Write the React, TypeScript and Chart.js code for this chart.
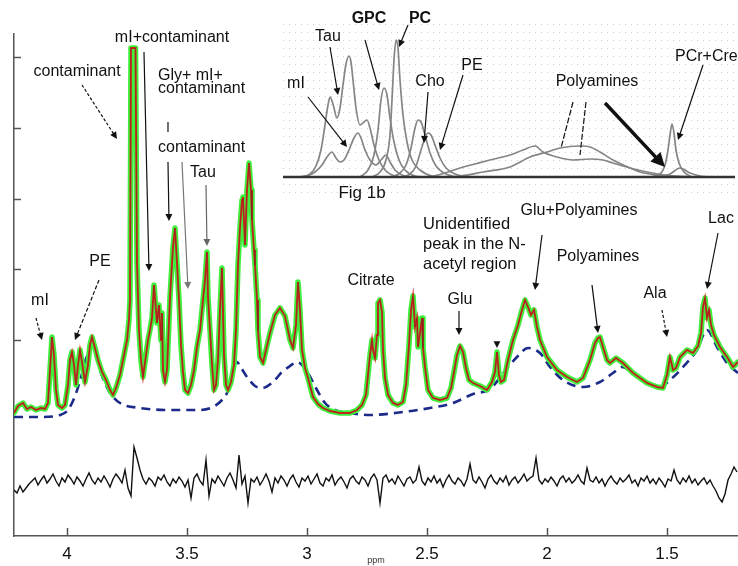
import React, { useEffect, useRef } from 'react';
import { Chart, registerables } from 'chart.js';

Chart.register(...registerables);

const FONT = '"Liberation Sans", Arial, Helvetica, sans-serif';

// ---------------- main spectrum data (ppm, intensity a.u.) ----------------
const spectrumPpm = [
  4.2208, 4.2042, 4.1833, 4.1667, 4.15, 4.1292, 4.1083, 4.0917, 4.0792, 4.0708,
  4.0625, 4.0542, 4.0458, 4.0375, 4.0208, 4.0083, 3.9958, 3.9875, 3.9792, 3.9708,
  3.9625, 3.9542, 3.9458, 3.9375, 3.925, 3.9125, 3.9042, 3.8958, 3.8833, 3.8708,
  3.8542, 3.8375, 3.8208, 3.8083, 3.7958, 3.7792, 3.7625, 3.75, 3.7417, 3.7375,
  3.7333, 3.7146, 3.7083, 3.7, 3.6917, 3.6833, 3.6708, 3.6625, 3.6542, 3.6458,
  3.6375, 3.6292, 3.625, 3.6167, 3.6083, 3.6042, 3.6, 3.5917, 3.5833, 3.5708,
  3.5583, 3.55, 3.5417, 3.5333, 3.525, 3.5167, 3.5083, 3.4958, 3.4833, 3.4708,
  3.4583, 3.4458, 3.4375, 3.4333, 3.425, 3.4167, 3.4125, 3.4042, 3.3958, 3.3875,
  3.3792, 3.3708, 3.3625, 3.3542, 3.3458, 3.3375, 3.3292, 3.3167, 3.3042, 3.2958,
  3.2875, 3.2792, 3.2708, 3.2667, 3.2583, 3.25, 3.2417, 3.2333, 3.2292, 3.2208,
  3.2167, 3.2083, 3.2042, 3.1958, 3.1833, 3.1708, 3.1542, 3.1333, 3.1125, 3.0917,
  3.0708, 3.0583, 3.0458, 3.0375, 3.0292, 3.0208, 3.0083, 2.9958, 2.975, 2.9542,
  2.9333, 2.9042, 2.8625, 2.8208, 2.7917, 2.7708, 2.7542, 2.7458, 2.7375, 2.7292,
  2.725, 2.7167, 2.7083, 2.7042, 2.6958, 2.6875, 2.6833, 2.675, 2.6625, 2.6417,
  2.6208, 2.6, 2.5875, 2.575, 2.5667, 2.5583, 2.55, 2.5417, 2.5375, 2.5292,
  2.5208, 2.5167, 2.5083, 2.4958, 2.475, 2.4458, 2.4167, 2.4, 2.3875, 2.375,
  2.3625, 2.35, 2.3375, 2.325, 2.3083, 2.2792, 2.25, 2.2292, 2.2167, 2.2083,
  2.2, 2.1917, 2.1792, 2.1625, 2.1417, 2.1208, 2.1042, 2.0917, 2.0792, 2.0667,
  2.0542, 2.0417, 2.0292, 2.0, 1.9583, 1.9167, 1.875, 1.85, 1.8208, 1.8,
  1.7875, 1.7792, 1.7667, 1.75, 1.7375, 1.7125, 1.6833, 1.6417, 1.5833, 1.5417,
  1.5167, 1.5, 1.4875, 1.475, 1.4625, 1.4458, 1.4167, 1.3917, 1.3708, 1.3583,
  1.35, 1.3417, 1.3333, 1.325, 1.3167, 1.3042, 1.2792, 1.25, 1.225, 1.2042,
];
const spectrumIntensity = [
  123, 130, 133, 127, 129, 126, 128, 127, 133, 166,
  199, 181, 146, 131, 128, 131, 151, 176, 184, 171,
  151, 171, 186, 174, 154, 171, 191, 199, 188, 176,
  164, 156, 146, 141, 148, 161, 181, 196, 216, 236,
  488, 488, 273, 206, 176, 159, 181, 196, 206, 218,
  251, 226, 213, 231, 196, 223, 166, 154, 166, 239,
  289, 308, 273, 236, 191, 164, 146, 143, 151, 166,
  189, 206, 226, 236, 256, 284, 239, 206, 171, 146,
  151, 176, 226, 268, 181, 151, 146, 154, 171, 206,
  271, 308, 336, 339, 291, 346, 373, 346, 316, 286,
  271, 236, 206, 179, 173, 186, 203, 221, 228, 220,
  196, 188, 211, 254, 226, 186, 168, 158, 139, 132,
  128, 125, 123, 123, 126, 131, 141, 161, 181, 196,
  186, 178, 201, 233, 236, 224, 186, 158, 141, 133,
  131, 134, 151, 191, 226, 240, 209, 218, 189, 203,
  218, 188, 169, 146, 138, 136, 138, 148, 164, 181,
  190, 184, 168, 156, 153, 150, 146, 154, 164, 184,
  161, 154, 156, 176, 196, 211, 226, 236, 229, 221,
  226, 209, 196, 179, 166, 159, 154, 158, 176, 193,
  198, 199, 189, 176, 173, 178, 173, 163, 153, 149,
  148, 161, 179, 166, 168, 179, 186, 183, 190, 203,
  229, 238, 218, 226, 211, 201, 189, 179, 169, 174,
];

const baselinePpm = [
  4.2208, 4.1125, 4.0292, 3.9958, 3.9667, 3.9458, 3.925, 3.9042, 3.8917, 3.875,
  3.8625, 3.8417, 3.8208, 3.7792, 3.6958, 3.5708, 3.4458, 3.3917, 3.3542, 3.3333,
  3.3167, 3.3042, 3.2917, 3.2792, 3.25, 3.2167, 3.1875, 3.1417, 3.1042, 3.0708,
  3.0417, 3.0208, 2.9958, 2.9583, 2.925, 2.8833, 2.8208, 2.7375, 2.6, 2.4875,
  2.3917, 2.3083, 2.2375, 2.175, 2.125, 2.0792, 2.0292, 1.9875, 1.9333, 1.85,
  1.7792, 1.725, 1.6875, 1.6417, 1.5833, 1.5292, 1.4875, 1.4333, 1.375, 1.3333,
  1.2917, 1.25, 1.2042,
];
const baselineIntensity = [
  119, 119, 121, 126, 140, 155, 174, 186, 189, 178,
  166, 153, 143, 133, 128, 126, 126, 129, 136, 143,
  156, 172, 174, 170, 159, 150, 148, 154, 164, 170,
  174, 171, 163, 146, 133, 126, 123, 121, 124, 128,
  133, 142, 147, 165, 179, 188, 183, 169, 156, 149,
  154, 163, 169, 163, 154, 149, 156, 169, 186, 206,
  189, 173, 163,
];

// residual: sampled every 0.0125 ppm starting at 4.2208 ppm
const residualStartPpm = 4.2208;
const residualStepPpm = 0.0125;
const residualIntensity = [
  46, 43, 50, 44, 48, 52, 55, 58, 51, 56,
  60, 53, 57, 62, 55, 50, 58, 54, 61, 57,
  52, 59, 55, 50, 57, 63, 56, 52, 58, 54,
  60, 55, 49, 57, 62, 58, 53, 66, 48, 40,
  89, 78, 66, 57, 52, 58, 55, 50, 59, 56,
  61, 54, 50, 57, 53, 59, 55, 49, 56, 38,
  58, 62, 55, 51, 76, 40, 57, 53, 60, 55,
  50, 58, 63, 56, 48, 81, 52, 60, 33, 57,
  54, 59, 51, 56, 62, 55, 44, 58, 53, 60,
  56, 50, 57, 61, 54, 49, 58, 55, 60, 52,
  57, 62, 53, 50, 58, 55, 61, 51, 56, 59,
  54, 48, 57, 60, 55, 52, 59, 56, 50, 58,
  62, 56, 33, 58, 61, 54, 57, 52, 60, 55,
  50, 57, 59, 53, 56, 69, 55, 51, 58, 54,
  60, 53, 57, 49, 56, 61, 55, 52, 58, 55,
  50, 57, 72, 56, 53, 59, 54, 48, 57, 61,
  55, 52, 58, 54, 60, 51, 56, 59, 53, 57,
  62, 55, 58, 60, 78, 56, 52, 57, 54, 59,
  55, 50, 57, 60, 54, 58, 53, 56, 61, 55,
  52, 68, 56, 54, 59, 53, 57, 50, 56, 60,
  55, 52, 58, 54, 57, 61, 53, 56, 50, 58,
  55, 60, 53, 57, 52, 58, 54, 49, 57, 55,
  66, 56, 52, 58, 54, 60, 53, 57, 51, 55,
  58, 52, 56, 50, 45, 38, 34, 42, 56, 62,
  69, 64,
];

const xTickValues = [4, 3.5, 3, 2.5, 2, 1.5];
const yTickValues = [196, 266.75, 337.5, 408.25, 479];
const X_MIN = 1.2042;
const X_MAX = 4.2208;

// ---------------- inset (Fig 1b) component curves ----------------
const insetTau = [[17, 0], [27, 3], [33, 11], [38, 27], [42, 52], [45, 72], [47, 80], [50, 73], [54, 59], [57, 69], [60, 92], [63, 113], [66, 121], [68, 115], [70, 97], [73, 69], [77, 52], [81, 55], [84, 57], [87, 49], [91, 32], [96, 17], [102, 7], [109, 2], [117, 0]];
const insetMI = [[22, 0], [32, 5], [39, 12], [44, 20], [49, 25], [53, 19], [57, 15], [61, 17], [66, 27], [71, 39], [75, 44], [78, 39], [82, 27], [87, 17], [93, 12], [98, 17], [103, 22], [107, 15], [112, 7], [119, 2], [127, 0]];
const insetGPC = [[77, 0], [85, 7], [91, 22], [95, 47], [98, 77], [101, 89], [104, 82], [107, 59], [111, 35], [116, 17], [122, 7], [132, 1], [142, 0]];
const insetPC = [[89, 0], [97, 5], [103, 17], [107, 42], [109, 77], [111, 117], [113, 137], [115, 129], [117, 97], [120, 62], [124, 35], [129, 17], [137, 7], [149, 1], [162, 0]];
const insetCho = [[109, 0], [117, 4], [123, 12], [128, 29], [132, 49], [135, 57], [138, 55], [142, 42], [147, 24], [153, 11], [161, 4], [172, 0]];
const insetPE = [[119, 0], [127, 3], [133, 11], [138, 27], [142, 39], [145, 44], [148, 42], [152, 32], [157, 19], [163, 9], [172, 3], [185, 0]];
const insetPoly1 = [[147, 0], [162, 4], [177, 9], [192, 13], [207, 17], [227, 22], [240, 27], [252, 31], [260, 25], [274, 20], [290, 17], [307, 18], [320, 17], [330, 14], [347, 9], [364, 5], [382, 2], [407, 0]];
const insetPoly2 = [[157, 0], [177, 1], [200, 5], [227, 10], [247, 20], [264, 25], [277, 29], [297, 31], [307, 30], [317, 25], [330, 17], [347, 9], [357, 5], [374, 2], [392, 0]];
const insetCr = [[367, 0], [377, 3], [382, 12], [385, 27], [387, 42], [389, 53], [391, 44], [393, 27], [396, 14], [401, 5], [409, 0]];
const insetSmall = [[377, 0], [387, 3], [397, 9], [407, 4], [417, 1], [429, 0]];
const insetBase = [[0, 0], [452, 0]];

// ---------------- annotations ----------------
type Label = { text: string; at: [number, number]; align: CanvasTextAlign; bold?: boolean; size?: number };
type Arrow = { from: [number, number]; to: [number, number]; color?: string; dash?: number[]; head?: boolean; width?: number; headLen?: number; headW?: number };

const mainLabels: Label[] = [
  { text: 'contaminant', at: [3.958, 464], align: 'center' },
  { text: 'mI+contaminant', at: [3.5625, 498], align: 'center' },
  { text: 'Gly+ mI+', at: [3.6208, 460], align: 'left' },
  { text: 'contaminant', at: [3.6208, 447], align: 'left' },
  { text: 'contaminant', at: [3.6208, 388], align: 'left' },
  { text: 'Tau', at: [3.4875, 363], align: 'left' },
  { text: 'mI', at: [4.1125, 235], align: 'center' },
  { text: 'PE', at: [3.8625, 274], align: 'center' },
  { text: 'Citrate', at: [2.7333, 255], align: 'center' },
  { text: 'Glu', at: [2.3625, 236], align: 'center' },
  { text: 'Unidentified', at: [2.5167, 312], align: 'left', size: 16.5 },
  { text: 'peak in the N-', at: [2.5167, 292], align: 'left', size: 16.5 },
  { text: 'acetyl region', at: [2.5167, 272], align: 'left', size: 16.5 },
  { text: 'Glu+Polyamines', at: [1.8667, 325], align: 'center' },
  { text: 'Polyamines', at: [1.7875, 279], align: 'center' },
  { text: 'Ala', at: [1.55, 242], align: 'center' },
  { text: 'Lac', at: [1.275, 317], align: 'center' },
];
const mainArrows: Arrow[] = [
  { from: [3.9375, 451], to: [3.7917, 397], dash: [3, 2], head: true },
  { from: [3.6792, 484], to: [3.6583, 265], head: true },
  { from: [3.5792, 414], to: [3.5792, 404], head: false },
  { from: [3.5792, 374], to: [3.575, 315], head: true },
  { from: [3.5208, 374], to: [3.4958, 247], color: '#777', head: true },
  { from: [3.4208, 351], to: [3.4167, 290], color: '#666', head: true },
  { from: [4.1292, 218], to: [4.1042, 196], dash: [3, 2], head: true },
  { from: [3.8667, 256], to: [3.9667, 196], dash: [4, 2], head: true },
  { from: [2.3667, 225], to: [2.3667, 201], head: true },
  { from: [2.0208, 301], to: [2.05, 246], head: true },
  { from: [1.8125, 251], to: [1.7875, 203], head: true },
  { from: [1.5208, 226], to: [1.5, 199], dash: [3, 2], head: true },
  { from: [1.2875, 303], to: [1.3333, 247], head: true },
];
const mainMarkers: [number, number][] = [[2.2083, 191]];

const insetLabels: Label[] = [
  { text: 'Tau', at: [45, 140], align: 'center' },
  { text: 'GPC', at: [86, 158], align: 'center', bold: true },
  { text: 'PC', at: [137, 158], align: 'center', bold: true },
  { text: 'mI', at: [13, 93], align: 'center' },
  { text: 'Cho', at: [147, 95], align: 'center' },
  { text: 'PE', at: [189, 111], align: 'center' },
  { text: 'Polyamines', at: [314, 95], align: 'center' },
  { text: 'PCr+Cre', at: [392, 120], align: 'left' },
  { text: 'Fig 1b', at: [79, -16], align: 'center', size: 17 },
];
const insetArrows: Arrow[] = [
  { from: [47, 130], to: [55, 82], head: true },
  { from: [82, 137], to: [96, 87], head: true },
  { from: [125, 152], to: [116, 130], head: true },
  { from: [25, 80], to: [64, 30], head: true },
  { from: [145, 85], to: [141, 34], head: true },
  { from: [180, 102], to: [157, 27], head: true },
  { from: [290, 75], to: [278, 29], head: false, dash: [6, 2] },
  { from: [303, 75], to: [297, 22], head: false, dash: [6, 2] },
  { from: [322, 74], to: [382, 10], head: true, width: 3.5, headLen: 14, headW: 7 },
  { from: [420, 112], to: [395, 37], head: true },
];

function toPoints(xs: number[], ys: number[]) {
  return xs.map((x, i) => ({ x, y: ys[i] }));
}
function pairPoints(p: number[][]) {
  return p.map(([x, y]) => ({ x, y }));
}

function drawArrow(ctx: CanvasRenderingContext2D, x1: number, y1: number, x2: number, y2: number, a: Arrow) {
  const color = a.color || '#111';
  const width = a.width || 1.2;
  const L = a.headLen || 7;
  const W = a.headW || 3.5;
  const ang = Math.atan2(y2 - y1, x2 - x1);
  const c = Math.cos(ang);
  const s = Math.sin(ang);
  ctx.save();
  ctx.strokeStyle = color;
  ctx.fillStyle = color;
  ctx.lineWidth = width;
  ctx.setLineDash(a.dash || []);
  ctx.beginPath();
  ctx.moveTo(x1, y1);
  const ex = a.head ? x2 - c * L * 0.8 : x2;
  const ey = a.head ? y2 - s * L * 0.8 : y2;
  ctx.lineTo(ex, ey);
  ctx.stroke();
  if (a.head) {
    ctx.setLineDash([]);
    ctx.beginPath();
    ctx.moveTo(x2, y2);
    ctx.lineTo(x2 - c * L - s * W, y2 - s * L + c * W);
    ctx.lineTo(x2 - c * L + s * W, y2 - s * L - c * W);
    ctx.closePath();
    ctx.fill();
  }
  ctx.restore();
}

function drawLabels(chart: any, labels: Label[]) {
  const { ctx, scales } = chart;
  ctx.save();
  ctx.fillStyle = '#111';
  ctx.textBaseline = 'middle';
  labels.forEach((l) => {
    ctx.font = `${l.bold ? 'bold ' : ''}${l.size || 16}px ${FONT}`;
    ctx.textAlign = l.align;
    ctx.fillText(l.text, scales.x.getPixelForValue(l.at[0]), scales.y.getPixelForValue(l.at[1]));
  });
  ctx.restore();
}

function drawArrows(chart: any, arrows: Arrow[]) {
  const { ctx, scales } = chart;
  arrows.forEach((a) => {
    drawArrow(
      ctx,
      scales.x.getPixelForValue(a.from[0]),
      scales.y.getPixelForValue(a.from[1]),
      scales.x.getPixelForValue(a.to[0]),
      scales.y.getPixelForValue(a.to[1]),
      a
    );
  });
}

const mainDecor = {
  id: 'mainDecor',
  afterDraw(chart: any) {
    const { ctx, scales, chartArea } = chart;
    ctx.save();
    ctx.strokeStyle = '#555';
    ctx.lineWidth = 1.5;
    xTickValues.forEach((v) => {
      const px = Math.round(scales.x.getPixelForValue(v)) + 0.5;
      ctx.beginPath();
      ctx.moveTo(px, chartArea.bottom);
      ctx.lineTo(px, chartArea.bottom - 8);
      ctx.stroke();
    });
    yTickValues.forEach((v) => {
      const py = Math.round(scales.y.getPixelForValue(v)) + 0.5;
      ctx.beginPath();
      ctx.moveTo(chartArea.left, py);
      ctx.lineTo(chartArea.left + 7, py);
      ctx.stroke();
    });
    ctx.restore();
    drawArrows(chart, mainArrows);
    drawLabels(chart, mainLabels);
    ctx.save();
    ctx.fillStyle = '#111';
    ctx.font = `9px "DejaVu Sans", ${FONT}`;
    ctx.textAlign = 'center';
    ctx.textBaseline = 'middle';
    mainMarkers.forEach(([x, y]) => {
      ctx.fillText('▼', scales.x.getPixelForValue(x), scales.y.getPixelForValue(y));
    });
    ctx.restore();
  },
};

const insetDecor = {
  id: 'insetDecor',
  beforeDatasetsDraw(chart: any) {
    const { ctx, scales } = chart;
    ctx.save();
    ctx.fillStyle = '#cfcfcf';
    for (let yv = -15; yv <= 157; yv += 8) {
      const py = Math.round(scales.y.getPixelForValue(yv));
      for (let xv = 0; xv <= 452; xv += 6) {
        const px = Math.round(scales.x.getPixelForValue(xv));
        ctx.fillRect(px, py, 1, 1);
      }
    }
    ctx.restore();
  },
  afterDraw(chart: any) {
    drawArrows(chart, insetArrows);
    drawLabels(chart, insetLabels);
  },
};

export default function App() {
  const mainRef = useRef<HTMLCanvasElement>(null);
  const insetRef = useRef<HTMLCanvasElement>(null);

  useEffect(() => {
    const spec = toPoints(spectrumPpm, spectrumIntensity);
    const base = toPoints(baselinePpm, baselineIntensity);
    const resid = residualIntensity.map((y, i) => ({ x: residualStartPpm - residualStepPpm * i, y }));

    const main = new Chart(mainRef.current as HTMLCanvasElement, {
      type: 'line',
      data: {
        datasets: [
          { label: 'fit', data: spec, borderColor: 'rgba(60,30,20,0.55)', borderWidth: 0.6, pointRadius: 0, tension: 0 },
          { label: 'fit red', data: spec, borderColor: '#d42a20', borderWidth: 1.9, pointRadius: 0, tension: 0 },
          { label: 'data', data: spec, borderColor: '#3cf03c', borderWidth: 5.5, pointRadius: 0, tension: 0, borderJoinStyle: 'round', borderCapStyle: 'round' },
          { label: 'baseline', data: base, borderColor: '#1c2a8a', borderWidth: 2.6, borderDash: [9, 6], pointRadius: 0, cubicInterpolationMode: 'monotone' },
          { label: 'residual', data: resid, borderColor: '#111', borderWidth: 1.4, pointRadius: 0, tension: 0 },
        ] as any,
      },
      options: {
        animation: false,
        responsive: false,
        maintainAspectRatio: false,
        events: [],
        layout: { padding: { left: 0, top: 34, right: 0, bottom: 0 } },
        plugins: { legend: { display: false }, tooltip: { enabled: false }, title: { display: false } },
        scales: {
          x: {
            type: 'linear',
            reverse: true,
            min: X_MIN,
            max: X_MAX,
            afterBuildTicks: (s: any) => {
              s.ticks = xTickValues.map((v) => ({ value: v }));
            },
            afterFit: (s: any) => {
              s.height = 30;
            },
            grid: { display: false, drawTicks: false },
            border: { display: true, color: '#555', width: 1.5 },
            title: { display: true, text: 'ppm', color: '#333', font: { family: FONT, size: 9 }, padding: { top: 0, bottom: 0 } },
            ticks: {
              padding: 8,
              color: '#111',
              autoSkip: false,
              maxRotation: 0,
              font: { family: FONT, size: 17 },
              callback: (v: any) => String(v),
            },
          },
          y: {
            type: 'linear',
            min: 0,
            max: 502,
            afterBuildTicks: (s: any) => {
              s.ticks = yTickValues.map((v) => ({ value: v }));
            },
            afterFit: (s: any) => {
              s.width = 14;
            },
            grid: { display: false, drawTicks: false },
            border: { display: true, color: '#555', width: 1.5 },
            ticks: { display: false },
          },
        },
      } as any,
      plugins: [mainDecor],
    });

    const insetSets = [insetTau, insetMI, insetGPC, insetPC, insetCho, insetPE, insetPoly1, insetPoly2, insetCr, insetSmall];
    const inset = new Chart(insetRef.current as HTMLCanvasElement, {
      type: 'line',
      data: {
        datasets: [
          { label: 'base', data: pairPoints(insetBase), borderColor: '#333', borderWidth: 2.5, pointRadius: 0 },
          ...insetSets.map((c, i) => ({
            label: 'c' + i,
            data: pairPoints(c),
            borderColor: '#858585',
            borderWidth: 1.7,
            pointRadius: 0,
            cubicInterpolationMode: 'monotone',
          })),
        ] as any,
      },
      options: {
        animation: false,
        responsive: false,
        maintainAspectRatio: false,
        events: [],
        layout: { padding: 0 },
        plugins: { legend: { display: false }, tooltip: { enabled: false } },
        scales: {
          x: { type: 'linear', display: false, min: 0, max: 455 },
          y: { type: 'linear', display: false, min: -27, max: 177 },
        },
      } as any,
      plugins: [insetDecor],
    });

    return () => {
      main.destroy();
      inset.destroy();
    };
  }, []);

  return (
    <div style={{ position: 'fixed', left: 0, top: 0, width: 738, height: 566, background: '#fff', overflow: 'hidden' }}>
      <canvas ref={mainRef} width={738} height={566} style={{ position: 'absolute', left: 0, top: 0 }} />
      <canvas ref={insetRef} width={455} height={204} style={{ position: 'absolute', left: 283, top: 0 }} />
    </div>
  );
}
